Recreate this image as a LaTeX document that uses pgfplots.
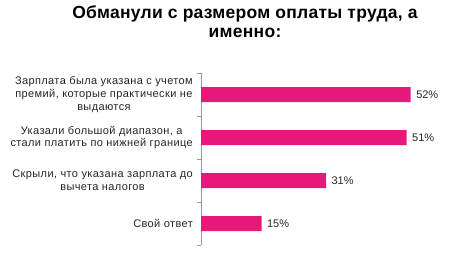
\documentclass[border=0pt]{standalone}
\usepackage{pgfplots}
\pgfplotsset{compat=1.18}
\usepackage{fontspec}
\setmainfont{Liberation Sans}
\newfontfamily\lblfont[LetterSpace=3.5]{Liberation Sans}
\newfontfamily\ttlfont[LetterSpace=1.5]{Liberation Sans}
\definecolor{barpink}{RGB}{232,24,122}
\begin{document}
\begin{tikzpicture}
\useasboundingbox (0,0) rectangle (449pt,252pt);
\node[align=center, font=\fontsize{17.5}{19}\ttlfont\bfseries, anchor=north, inner sep=0pt] at (245pt,252pt-5pt) {Обманули с размером оплаты труда, а\\именно:};
\begin{axis}[
  at={(201pt,7pt)}, anchor=south west,
  scale only axis,
  width=242pt, height=172pt,
  xmin=0, xmax=60,
  ymin=0.5, ymax=4.5,
  y dir=reverse,
  xbar, bar width=15pt,
  axis x line=none,
  axis y line=left,
  axis line style={-, draw=gray!80},
  ytick={1,2,3,4},
  major tick length=0pt,
  yticklabels={{Зарплата была указана  с учетом\\премий, которые практически не\\выдаются},{Указали большой диапазон, а\\стали платить по нижней границе},{Скрыли, что указана зарплата до\\вычета налогов},{Свой ответ}},
  yticklabel style={align=center, inner sep=0pt, xshift=-8pt, font=\fontsize{11}{12.7}\lblfont, text=black!85},
  extra y ticks={0.5,1.5,2.5,3.5,4.5},
  extra y tick labels={},
  extra y tick style={tick align=outside, major tick length=4pt, tick style={draw=gray!80}},
  /pgf/number format/assume math mode=true,
  nodes near coords={\pgfmathprintnumber{\pgfplotspointmeta}\%},
  nodes near coords align={horizontal},
  every node near coord/.append style={font=\fontsize{11}{12}\selectfont, text=black!85, xshift=2pt},
  clip=false,
]
\addplot[fill=barpink, draw=none] coordinates {(52,1) (51,2) (31,3) (15,4)};
\end{axis}
\end{tikzpicture}
\end{document}
